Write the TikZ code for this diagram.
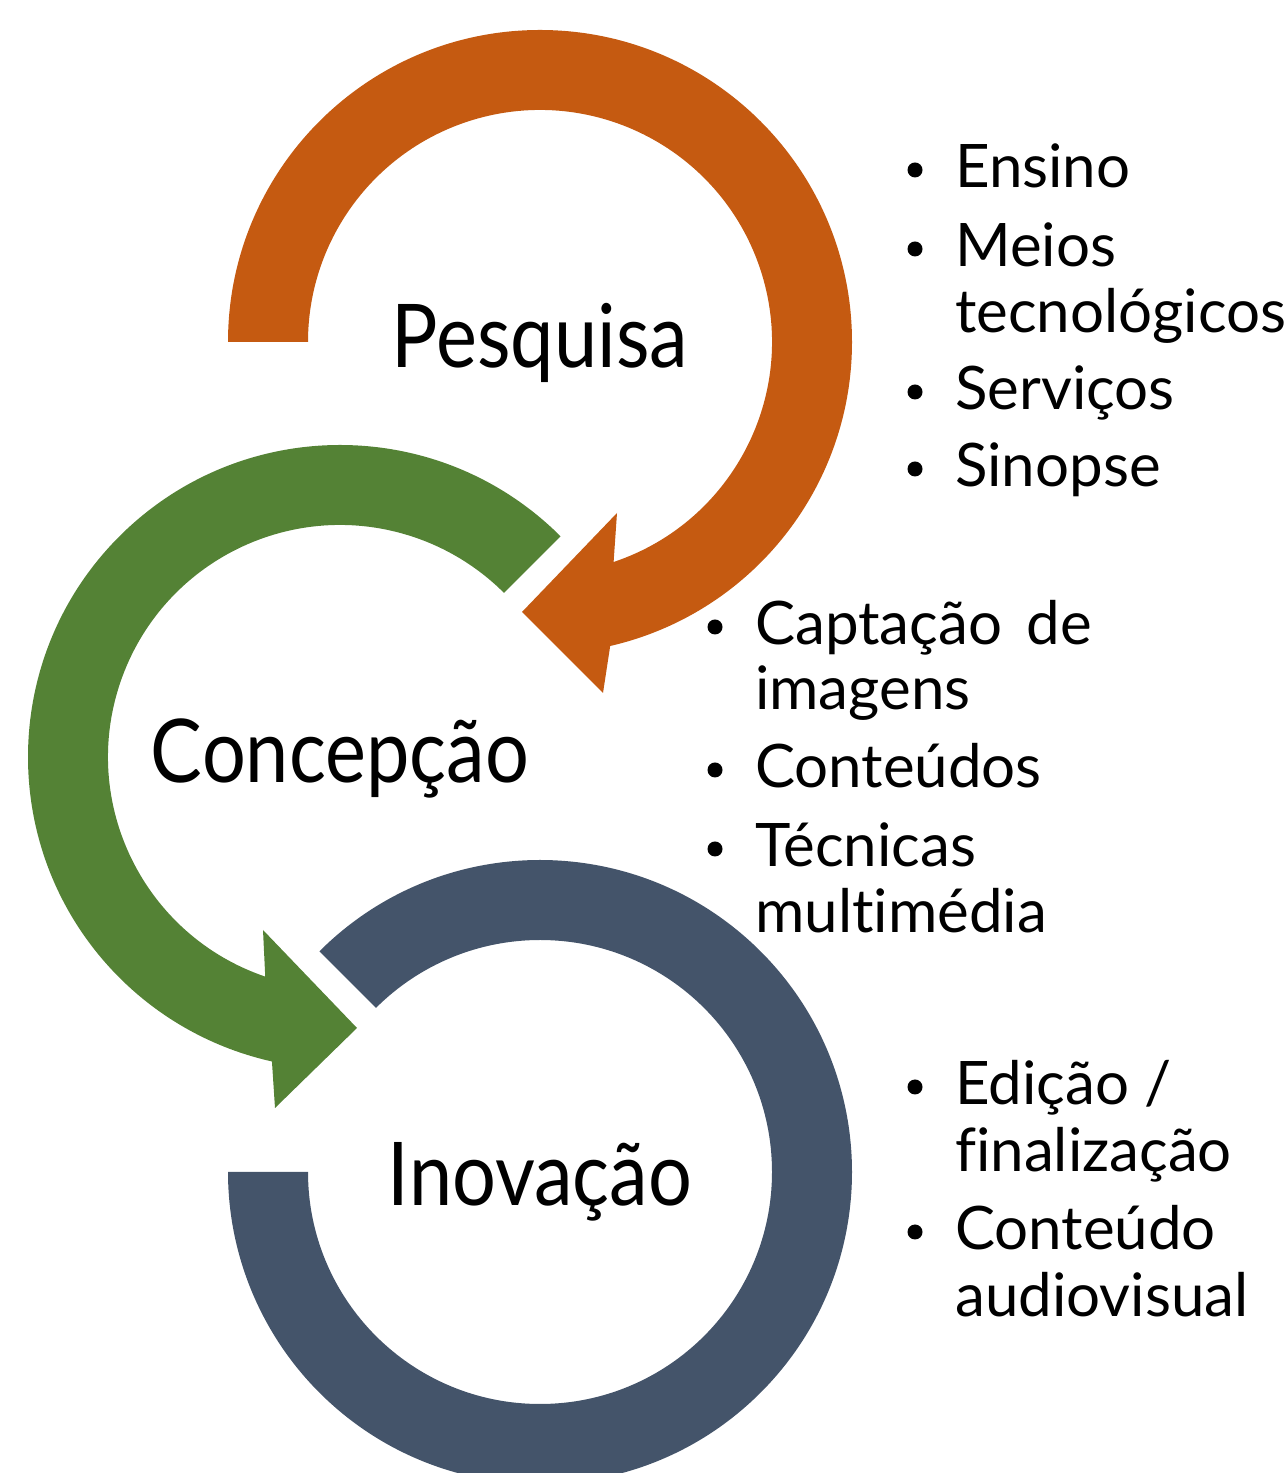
\documentclass[tikz,border=0pt]{standalone}
\usepackage{fontspec}
\setmainfont[Ligatures=NoCommon]{Lato}
\usetikzlibrary{calc}
\definecolor{orng}{HTML}{C55A11}
\definecolor{grn}{HTML}{548235}
\definecolor{blu}{HTML}{44546A}
\newcommand{\narrowtxt}[1]{\scalebox{0.88}[1]{#1}}
\begin{document}
\begin{tikzpicture}[x=1pt,y=1pt,
  title/.style={font=\fontsize{88}{100}\selectfont, anchor=base, inner sep=0pt},
  item/.style={font=\fontsize{60}{70}\selectfont, anchor=base west, inner sep=0pt},
  bul/.style={circle, fill=black, inner sep=0pt, minimum size=15pt}]
\useasboundingbox (0,0) rectangle (1285,1473);
\clip (0,0) rectangle (1285,1473);
% orange arc (Pesquisa)
\coordinate (co) at (540,1131);
\fill[orng] (228,1131) arc[start angle=180, end angle=-77, radius=312]
  -- (603,780) -- (522,861) -- (617,960)
  -- ($(co)+(-71.5:232)$) arc[start angle=-71.5, end angle=180, radius=232] -- cycle;
% green arc (Concepcao)
\coordinate (cg) at (340,716);
\fill[grn] ($(cg)+(45:312)$) arc[start angle=45, end angle=257.4, radius=312]
  -- (275,365) -- (357,445) -- (263,543)
  -- ($(cg)+(251.2:232)$) arc[start angle=251.2, end angle=45, radius=232] -- cycle;
% blue arc (Inovacao)
\coordinate (cb) at (540,301);
\fill[blu] ($(cb)+(135:312)$) arc[start angle=135, end angle=-180, radius=312]
  -- ($(cb)+(180:232)$) arc[start angle=-180, end angle=135, radius=232] -- cycle;
% titles
\node[title] (tp) at (540,1105) {\narrowtxt{Pesquisa}};
\node[title] (tc) at (340,690) {\narrowtxt{Concepção}};
\node[title] (ti) at (540,267) {\narrowtxt{Inovação}};
% list 1
\node[bul] (b11) at (915,1303) {};
\node[item] (l11) at (955,1285) {Ensino};
\node[bul] (b12) at (915,1224) {};
\node[item] (l12) at (955,1206) {Meios};
\node[item] (l13) at (955,1140) {tecnológicos};
\node[bul] (b13) at (915,1081) {};
\node[item] (l14) at (955,1063) {Serviços};
\node[bul] (b14) at (915,1004) {};
\node[item] (l15) at (955,986) {Sinopse};
% list 2
\node[bul] (b21) at (715,846) {};
\node[item] (l21) at (755,828) {\makebox[337pt][s]{Captação de}};
\node[item] (l22) at (755,763) {imagens};
\node[bul] (b22) at (715,703) {};
\node[item] (l23) at (755,685) {Conteúdos};
\node[bul] (b23) at (715,624) {};
\node[item] (l24) at (755,606) {Técnicas};
\node[item] (l25) at (755,540) {multimédia};
% list 3
\node[bul] (b31) at (915,386) {};
\node[item] (l31) at (955,368) {Edição /};
\node[item] (l32) at (955,301) {finalização};
\node[bul] (b32) at (915,241) {};
\node[item] (l33) at (955,223) {Conteúdo};
\node[item] (l34) at (955,156) {audiovisual};
\end{tikzpicture}
\end{document}
